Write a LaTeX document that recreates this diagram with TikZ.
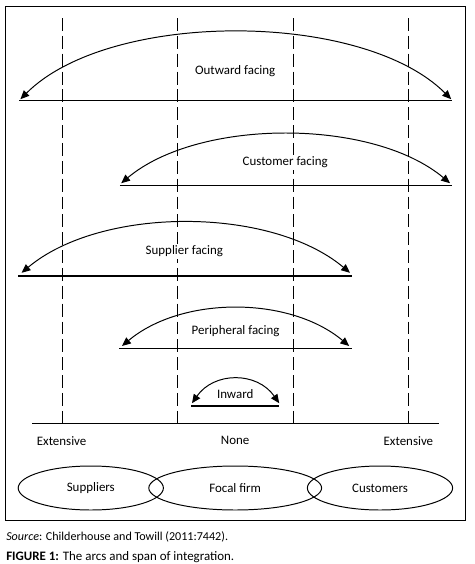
\documentclass[tikz,border=0pt]{standalone}
\usepackage{fontspec}
\setmainfont{Carlito}
\usetikzlibrary{arrows.meta,shapes.geometric}

\begin{document}
\begin{tikzpicture}[
  font=\fontsize{9.2}{11}\selectfont,
  frame/.style={draw,line width=0.7pt},
  zone/.style={draw,line width=0.6pt,dash pattern=on 9.2pt off 3.5pt},
  spanline/.style={draw,line width=0.75pt},
  arcarr/.style={line width=0.7pt,{Triangle[length=2.2mm,width=1.9mm]}-{Triangle[length=2.2mm,width=1.9mm]}},
  party/.style={draw,ellipse,line width=0.7pt,minimum width=36.3mm,minimum height=11mm,inner sep=0pt},
  lbl/.style={fill=white,inner sep=1.5pt},
  capt/.style={anchor=west,inner sep=0pt}]
\useasboundingbox (0,0) rectangle (11.85,-14.1);
% outer frame
\draw[frame] (0.13,-0.17) rectangle (11.64,-13.02);
% dashed zone borders
\coordinate (t1) at (1.56,-0.45);  \coordinate (b1) at (1.56,-10.58);
\coordinate (t2) at (4.43,-0.45);  \coordinate (b2) at (4.43,-10.58);
\coordinate (t3) at (7.33,-0.45);  \coordinate (b3) at (7.33,-10.58);
\coordinate (t4) at (10.22,-0.45); \coordinate (b4) at (10.22,-10.58);
\draw[zone] (t1)--(b1); \draw[zone] (t2)--(b2);
\draw[zone] (t3)--(b3); \draw[zone] (t4)--(b4);
% scale line
\coordinate (sA) at (0.8,-10.58);
\coordinate (sB) at (10.97,-10.58);
\draw[spanline] (sA)--(sB);
\node[lbl] (ext1) at (1.54,-11.02)  {Extensive};
\node[lbl] (none) at (5.88,-11.02)  {None};
\node[lbl] (ext2) at (10.21,-11.02) {Extensive};
% outward facing
\coordinate (oA) at (0.48,-2.52);  \coordinate (oB) at (11.3,-2.52);
\coordinate (oL) at (0.51,-2.48);  \coordinate (oR) at (11.28,-2.48);
\draw[spanline] (oA)--(oB);
\draw[arcarr] (oL) to[out=45,in=135,looseness=0.75] (oR);
\node[lbl] (out) at (5.88,-1.79) {Outward facing};
% customer facing
\coordinate (cA) at (3.0,-4.63);   \coordinate (cB) at (11.29,-4.63);
\coordinate (cL) at (3.03,-4.58);  \coordinate (cR) at (11.25,-4.58);
\draw[spanline] (cA)--(cB);
\draw[arcarr] (cL) to[out=40,in=140,looseness=0.79] (cR);
\node[lbl] (cust) at (7.13,-4.06) {Customer facing};
% supplier facing
\coordinate (sfA) at (0.46,-6.9);  \coordinate (sfB) at (8.79,-6.9);
\coordinate (sfL) at (0.54,-6.82); \coordinate (sfR) at (8.75,-6.82);
\draw[spanline] (sfA)--(sfB);
\draw[arcarr] (sfL) to[out=40,in=140,looseness=0.81] (sfR);
\node[lbl] (supp) at (4.61,-6.29) {Supplier facing};
% peripheral facing
\coordinate (pA) at (2.98,-8.71);  \coordinate (pB) at (8.79,-8.71);
\coordinate (pL) at (3.05,-8.65);  \coordinate (pR) at (8.73,-8.65);
\draw[spanline] (pA)--(pB);
\draw[arcarr] (pL) to[out=40,in=140,looseness=0.88] (pR);
\node[lbl] (peri) at (5.89,-8.27) {Peripheral facing};
% inward
\coordinate (iA) at (4.78,-10.15); \coordinate (iB) at (6.98,-10.15);
\coordinate (iL) at (4.8,-10.08);  \coordinate (iR) at (6.98,-10.08);
\draw[spanline] (iA)--(iB);
\draw[arcarr] (iL) to[out=55,in=125,looseness=1.14] (iR);
\node[lbl] (inw) at (5.88,-9.85) {Inward};
% chain members
\node[party] (sup) at (2.27,-12.2) {Suppliers};
\node[party,minimum width=43.2mm] (foc) at (5.88,-12.2) {Focal firm};
\node[party] (cus) at (9.5,-12.2) {Customers};
% caption
\node[capt,font=\fontsize{8.6}{10}\selectfont] (src) at (0.15,-13.42)
  {\textit{Source}: Childerhouse and Towill (2011:7442).};
\node[capt] (fig) at (0.15,-13.92)
  {\textbf{FIGURE 1:} The arcs and span of integration.};
\end{tikzpicture}
\end{document}
